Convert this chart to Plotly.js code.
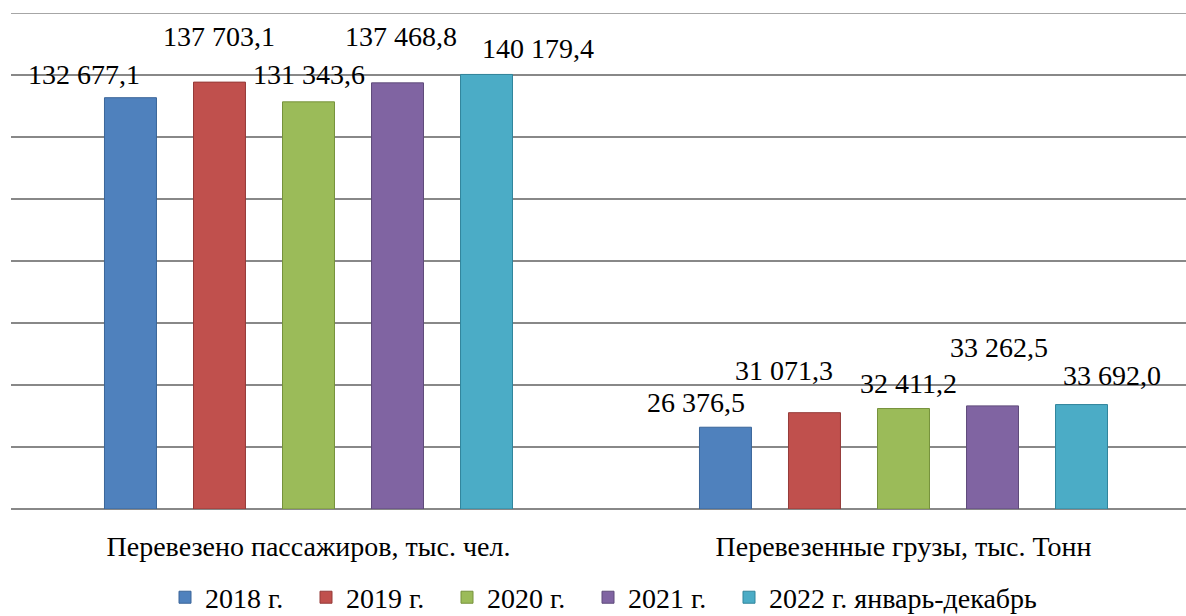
<!DOCTYPE html>
<html>
<head>
<meta charset="utf-8">
<script src="https://cdn.plot.ly/plotly-3.0.1.min.js"></script>
<style>html,body{margin:0;padding:0;background:#fff;}#chart{width:1186px;height:616px;}</style>
</head>
<body>
<div id="chart"></div>
<script>
const categories = ["Перевезено пассажиров, тыс. чел.", "Перевезенные грузы, тыс. Тонн"];
const seriesNames = ["2018 г.", "2019 г.", "2020 г.", "2021 г.", "2022 г. январь-декабрь"];
const v2018 = [132677.1, 26376.5];
const v2019 = [137703.1, 31071.3];
const v2020 = [131343.6, 32411.2];
const v2021 = [137468.8, 33262.5];
const v2022 = [140179.4, 33692.0];
const labels2018 = ["132 677,1", "26 376,5"];
const labels2019 = ["137 703,1", "31 071,3"];
const labels2020 = ["131 343,6", "32 411,2"];
const labels2021 = ["137 468,8", "33 262,5"];
const labels2022 = ["140 179,4", "33 692,0"];

const values = [v2018, v2019, v2020, v2021, v2022];
const labelTexts = [labels2018, labels2019, labels2020, labels2021, labels2022];
const fills = ["#4F81BD", "#C0504D", "#9BBB59", "#8064A2", "#4BACC6"];
const edges = ["#3A6599", "#953B39", "#76923C", "#5F4B7A", "#31859C"];
const legendIds = ["legend", "legend", "legend", "legend", "legend2"];

// label offsets (px) — layout styling for the staggered data labels
const xShifts = [[-46, -29], [0, -30], [0, 5], [3, 6], [51, 30]];
const yShifts = [[23, 25], [46, 42], [27, 25], [46, 58], [26, 29]];

const FONT = "'Liberation Serif', 'Times New Roman', Tinos, 'DejaVu Serif', 'Noto Serif', serif";
const bargap = 0.252;
const slot = (1 - bargap) / seriesNames.length;

const traces = values.map((vals, i) => ({
  type: "bar",
  name: seriesNames[i],
  x: categories,
  y: vals,
  legend: legendIds[i],
  marker: {color: fills[i], line: {color: edges[i], width: 1}},
  hoverinfo: "skip"
}));

const annotations = [];
values.forEach((vals, i) => {
  vals.forEach((v, c) => {
    annotations.push({
      x: c + (i - 2) * slot,
      y: v,
      xref: "x", yref: "y",
      text: labelTexts[i][c],
      showarrow: false,
      xanchor: "center", yanchor: "middle",
      xshift: xShifts[i][c],
      yshift: yShifts[i][c],
      font: {family: FONT, size: 28, color: "#000"}
    });
  });
});

const legendBase = {
  orientation: "h",
  xref: "container", yref: "container",
  xanchor: "left",
  y: 0.03, yanchor: "middle",
  font: {family: FONT, size: 28, color: "#000"},
  itemwidth: 30,
  itemclick: false, itemdoubleclick: false,
  traceorder: "normal"
};

const layout = {
  width: 1186, height: 616,
  margin: {l: 11, r: 0, t: 13, b: 107, autoexpand: false},
  paper_bgcolor: "#fff", plot_bgcolor: "#fff",
  barmode: "group",
  bargap: bargap,
  bargroupgap: 0.416,
  showlegend: true,
  legend: Object.assign({}, legendBase, {x: 165 / 1186, entrywidth: 96, entrywidthmode: "pixels"}),
  legend2: Object.assign({}, legendBase, {x: 729 / 1186}),
  xaxis: {
    type: "category",
    range: [-0.5, 1.4748],
    showgrid: false, zeroline: false,
    showline: false,
    ticks: "",
    tickfont: {family: FONT, size: 28, color: "#000"},
    ticklabelstandoff: 18,
    fixedrange: true
  },
  yaxis: {
    range: [0, 160000],
    dtick: 20000,
    showticklabels: false,
    showgrid: true,
    gridcolor: "#888888",
    gridwidth: 1.6,
    zeroline: true,
    zerolinecolor: "#888888",
    zerolinewidth: 1.6,
    showline: false,
    ticks: "",
    fixedrange: true
  },
  shapes: [{
    type: "line", xref: "paper", yref: "y",
    x0: 0, x1: 1, y0: 160000, y1: 160000,
    line: {color: "#888888", width: 1.6}
  }],
  annotations: annotations,
  font: {family: FONT, color: "#000"}
};

Plotly.newPlot("chart", traces, layout, {displayModeBar: false, staticPlot: true});
</script>
</body>
</html>
